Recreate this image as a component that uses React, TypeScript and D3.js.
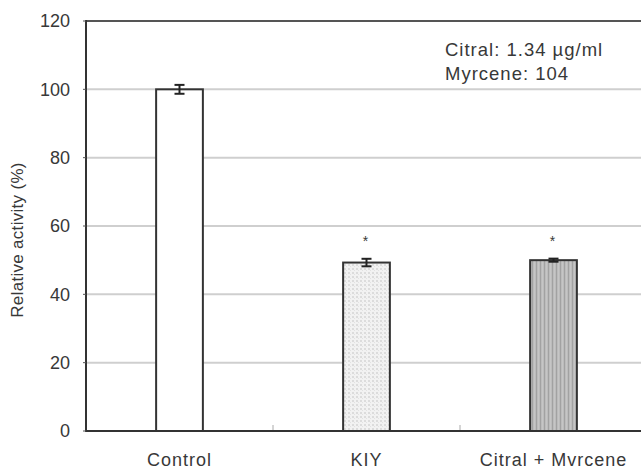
import React from "react";
import * as d3 from "d3";

const categories = ["Control", "KIY", "Citral + Mvrcene"];
const values = [100, 49.3, 50.0];
const errors = [1.3, 1.1, 0.45];
const significant = [false, true, true];
const yTicks = [0, 20, 40, 60, 80, 100, 120];
const noteLines = ["Citral: 1.34 \u00b5g/ml", "Myrcene: 104"];
const yTitle = "Relative activity (%)";

const W = 641;
const H = 469;
const left = 86;
const right = 647;
const top = 21;
const bottom = 431;

const FONT = "Liberation Sans, Arial, Helvetica, sans-serif";
const TXT = "#383838";

export default function App() {
  const x = d3.scaleBand<string>().domain(categories).range([left, right]).padding(0);
  const y = d3.scaleLinear().domain([0, 120]).range([bottom, top]);
  const barW = x.bandwidth() * 0.25;
  const fills = ["#ffffff", "url(#dots)", "url(#vlines)"];

  return (
    <svg
      width={W}
      height={H}
      style={{ position: "absolute", left: 0, top: 0, background: "#fff" }}
      fontFamily={FONT}
    >
      <defs>
        <pattern id="dots" width="4" height="4" patternUnits="userSpaceOnUse">
          <rect width="4" height="4" fill="#f2f2f2" />
          <rect x="0" y="0" width="2" height="2" fill="#dcdcdc" />
          <rect x="2" y="2" width="1" height="1" fill="#e2e2e2" />
        </pattern>
        <pattern id="vlines" width="4" height="4" patternUnits="userSpaceOnUse">
          <rect width="4" height="4" fill="#bcbcbc" />
          <rect x="0" y="0" width="1" height="4" fill="#a2a2a2" />
          <rect x="2" y="0" width="1" height="4" fill="#c6c6c6" />
        </pattern>
      </defs>

      {/* horizontal grid lines */}
      {yTicks.filter((t) => t > 0 && t < 120).map((t) => (
        <line key={"g" + t} x1={left} x2={W} y1={y(t)} y2={y(t)} stroke="#cfcfcf" strokeWidth={2} />
      ))}

      {/* top frame line */}
      <line x1={left} x2={W} y1={y(120)} y2={y(120)} stroke="#555" strokeWidth={2} />

      {/* category separators on the x axis */}
      {categories.slice(1).map((c) => (
        <line key={"s" + c} x1={x(c)!} x2={x(c)!} y1={bottom} y2={bottom - 6} stroke="#aaa" strokeWidth={1} />
      ))}

      {/* bars */}
      {categories.map((c, i) => {
        const cx = x(c)! + x.bandwidth() / 2;
        return (
          <rect
            key={"b" + c}
            x={cx - barW / 2}
            y={y(values[i])}
            width={barW}
            height={bottom - y(values[i])}
            fill={fills[i]}
            stroke="#333"
            strokeWidth={2}
          />
        );
      })}

      {/* error bars */}
      {categories.map((c, i) => {
        const cx = x(c)! + x.bandwidth() / 2;
        const y1 = y(values[i] + errors[i]);
        const y2 = y(values[i] - errors[i]);
        return (
          <g key={"e" + c} stroke="#222" strokeWidth={2}>
            <line x1={cx} x2={cx} y1={y1} y2={y2} />
            <line x1={cx - 5} x2={cx + 5} y1={y1} y2={y1} />
            <line x1={cx - 5} x2={cx + 5} y1={y2} y2={y2} />
          </g>
        );
      })}

      {/* significance marks */}
      {categories.map((c, i) =>
        significant[i] ? (
          <text
            key={"st" + c}
            x={x(c)! + x.bandwidth() / 2 - 1}
            y={y(values[i] + errors[i]) - 13}
            textAnchor="middle"
            fontSize={14}
            fill={TXT}
          >
            *
          </text>
        ) : null
      )}

      {/* axes */}
      <line x1={left} x2={left} y1={top - 1} y2={bottom + 1} stroke="#333" strokeWidth={2} />
      <line x1={left - 1} x2={W} y1={bottom} y2={bottom} stroke="#333" strokeWidth={2} />
      {yTicks.map((t) => (
        <line key={"t" + t} x1={left - 3} x2={left} y1={y(t)} y2={y(t)} stroke="#555" strokeWidth={1} />
      ))}

      {/* y tick labels */}
      {yTicks.map((t) => (
        <text
          key={"yl" + t}
          x={70}
          y={y(t)}
          dy="0.36em"
          textAnchor="end"
          fontSize={18}
          fill={TXT}
        >
          {t}
        </text>
      ))}

      {/* x category labels */}
      {categories.map((c) => (
        <text
          key={"xl" + c}
          x={x(c)! + x.bandwidth() / 2}
          y={466}
          textAnchor="middle"
          fontSize={18}
          fill={TXT}
          style={{ letterSpacing: "1px" }}
        >
          {c}
        </text>
      ))}

      {/* y axis title */}
      <text
        transform={`translate(23,${(top + bottom) / 2 + 14}) rotate(-90)`}
        textAnchor="middle"
        fontSize={17}
        fill={TXT}
        style={{ letterSpacing: "0.3px" }}
      >
        {yTitle}
      </text>

      {/* concentration note */}
      {noteLines.map((s, i) => (
        <text key={"n" + i} x={445} y={56 + i * 24} fontSize={18.5} fill={TXT} style={{ letterSpacing: "1px" }}>
          {s}
        </text>
      ))}
    </svg>
  );
}
